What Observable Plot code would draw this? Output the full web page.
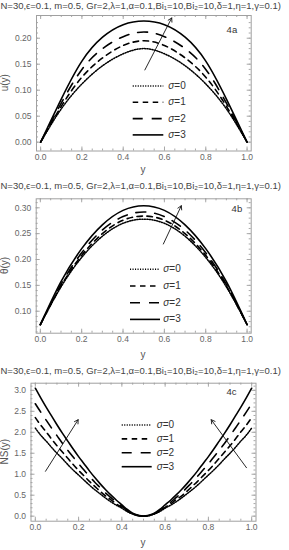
<!DOCTYPE html>
<html><head><meta charset="utf-8">
<script src="https://cdn.jsdelivr.net/npm/d3@7"></script>
<script src="https://cdn.jsdelivr.net/npm/@observablehq/plot@0.6"></script>
<style>
body{margin:0;background:#fff;width:289px;height:550px;overflow:hidden;font-family:"Liberation Sans",Arial,sans-serif}
#c svg{display:block}
</style></head><body><div id="c"></div>
<script>
const FONT = "Liberation Sans, Arial, sans-serif";
const titleText = "N=30,ϵ=0.1, m=0.5, Gr=2,λ=1,α=0.1,Bi₁=10,Bi₂=10,δ=1,η=1,γ=0.1)";
const sigmaSym = "σ";
const sigmaValues = ["0", "1", "2", "3"];

// abscissa grids
const yCoarse = [0, 0.1, 0.2, 0.3, 0.4, 0.5, 0.6, 0.7, 0.8, 0.9, 1.0];
const yFine = [0, 0.025, 0.05, 0.075, 0.1, 0.125, 0.15, 0.175, 0.2, 0.225, 0.25, 0.275, 0.3, 0.325, 0.35, 0.375, 0.4, 0.425, 0.45, 0.475, 0.5,
  0.525, 0.55, 0.575, 0.6, 0.625, 0.65, 0.675, 0.7, 0.725, 0.75, 0.775, 0.8, 0.825, 0.85, 0.875, 0.9, 0.925, 0.95, 0.975, 1.0];

// Fig 4a: u(y)
const u_s0 = [0, 0.064, 0.112, 0.147, 0.170, 0.180, 0.170, 0.147, 0.112, 0.064, 0];
const u_s1 = [0, 0.069, 0.125, 0.162, 0.186, 0.195, 0.186, 0.162, 0.125, 0.069, 0];
const u_s2 = [0, 0.075, 0.140, 0.180, 0.203, 0.212, 0.203, 0.180, 0.140, 0.075, 0];
const u_s3 = [0, 0.083, 0.156, 0.202, 0.226, 0.233, 0.226, 0.202, 0.156, 0.083, 0];

// Fig 4b: theta(y)
const th_s0 = [0.074, 0.147, 0.204, 0.245, 0.270, 0.278, 0.270, 0.245, 0.204, 0.147, 0.074];
const th_s1 = [0.074, 0.149, 0.208, 0.250, 0.276, 0.284, 0.276, 0.250, 0.208, 0.149, 0.074];
const th_s2 = [0.074, 0.152, 0.213, 0.257, 0.283, 0.292, 0.283, 0.257, 0.213, 0.152, 0.074];
const th_s3 = [0.074, 0.157, 0.221, 0.267, 0.295, 0.304, 0.295, 0.267, 0.221, 0.157, 0.074];

// Fig 4c: NS(y), left half y = 0 … 0.5 (step 0.025); right half mirrors it
const ns_s0 = [2.10, 1.93, 1.79, 1.64, 1.50, 1.37, 1.23, 1.10, 0.98, 0.86, 0.74, 0.63, 0.53, 0.43, 0.34, 0.26, 0.19, 0.11, 0.05, 0.012, 0];
const ns_s1 = [2.35, 2.17, 2.01, 1.84, 1.68, 1.53, 1.38, 1.23, 1.09, 0.96, 0.83, 0.71, 0.59, 0.48, 0.39, 0.29, 0.21, 0.12, 0.055, 0.015, 0];
const ns_s2 = [2.68, 2.48, 2.29, 2.10, 1.92, 1.74, 1.57, 1.41, 1.25, 1.10, 0.95, 0.81, 0.68, 0.55, 0.44, 0.33, 0.24, 0.14, 0.06, 0.015, 0];
const ns_s3 = [3.05, 2.82, 2.60, 2.39, 2.18, 1.98, 1.79, 1.60, 1.42, 1.25, 1.08, 0.92, 0.77, 0.63, 0.50, 0.38, 0.27, 0.16, 0.07, 0.02, 0];
function mirror(a) { return a.concat(a.slice(0, a.length - 1).reverse()); }

// tick labels
const xTicks = [0, 0.2, 0.4, 0.6, 0.8, 1.0];
const uTicks = [0, 0.05, 0.10, 0.15, 0.20];
const thTicks = [0.10, 0.15, 0.20, 0.25, 0.30];
const nsTicks = [0, 0.5, 1.0, 1.5, 2.0, 2.5, 3.0];

// arrows [x1, y1, x2, y2] in data units
const uArrow = [[0.505, 0.139, 0.635, 0.239]];
const thArrow = [[0.595, 0.230, 0.682, 0.304]];
const nsArrows = [[0.047, 1.07, 0.198, 2.30], [0.976, 1.155, 0.813, 2.30]];

const dashes = ["1.1,1.4", "5.5,4.5", "10,9", null];
const widths = [1.5, 1.6, 1.6, 1.6];

function panel(cfg) {
  const {xGrid, series, height, mt, mb, ml, mr, yDomain, yTicks, yMinor, yFormat, yLabel,
         tag, tagDx, tagDy, arrows, legend, titleY, xLabelY} = cfg;
  const innerW = 289 - ml - mr, innerH = height - mt - mb;
  const xMinor = d3.range(0, 1.0001, 0.05);
  const tickC = "#a8a8a8";
  const marks = [
    Plot.ruleX(xMinor, {insetTop: innerH - 2, stroke: tickC}),
    Plot.ruleX(xMinor, {insetBottom: innerH - 2, stroke: tickC}),
    Plot.ruleX(xTicks, {insetTop: innerH - 4, stroke: tickC}),
    Plot.ruleX(xTicks, {insetBottom: innerH - 4, stroke: tickC}),
    Plot.ruleY(yMinor, {insetRight: innerW - 2, stroke: tickC}),
    Plot.ruleY(yMinor, {insetLeft: innerW - 2, stroke: tickC}),
    Plot.ruleY(yTicks, {insetRight: innerW - 4, stroke: tickC}),
    Plot.ruleY(yTicks, {insetLeft: innerW - 4, stroke: tickC}),
    Plot.frame({stroke: "#a0a0a0"})
  ];
  series.forEach((vals, i) => {
    const rows = vals.map((v, j) => ({x: xGrid[j], v}));
    marks.push(Plot.line(rows, {x: "x", y: "v", curve: "natural", stroke: "#000",
      strokeWidth: widths[i], strokeDasharray: dashes[i]}));
  });
  marks.push(
    Plot.arrow(arrows, {x1: d => d[0], y1: d => d[1], x2: d => d[2], y2: d => d[3],
      stroke: "#111", strokeWidth: 0.9, headLength: 7}),
    Plot.axisX(xTicks, {tickSize: 0, tickPadding: 3, tickFormat: d3.format(".1f"), fontSize: 8.5,
      color: "#666", label: null}),
    Plot.axisY(yTicks, {tickSize: 0, tickPadding: 5, tickFormat: d3.format(yFormat), fontSize: 8.5,
      color: "#666", label: null}),
    Plot.text([tag], {frameAnchor: "top-right", dx: tagDx, dy: tagDy, text: d => d,
      fontSize: 9.5, fill: "#333", lineAnchor: "middle", textAnchor: "end"})
  );
  const svg = Plot.plot({
    width: 289, height, marginTop: mt, marginBottom: mb, marginLeft: ml, marginRight: mr,
    x: {domain: [-0.02, 1.02]}, y: {domain: yDomain},
    style: {fontFamily: FONT, background: "transparent", fontSize: "9px"},
    marks
  });
  const s = d3.select(svg);
  s.append("text").attr("x", 0.5).attr("y", titleY).attr("dominant-baseline", "middle")
    .attr("text-anchor", "start")
    .attr("font-family", FONT).attr("font-size", 9.5).attr("fill", "#444").text(titleText);
  // axis titles
  s.append("text").attr("x", 143).attr("y", xLabelY).attr("dominant-baseline", "middle")
    .attr("text-anchor", "middle").attr("font-family", FONT).attr("font-size", 10).attr("fill", "#555").text("y");
  s.append("text").attr("transform", `translate(5.5,${mt + innerH / 2}) rotate(-90)`)
    .attr("dominant-baseline", "middle").attr("text-anchor", "middle")
    .attr("font-family", FONT).attr("font-size", 10).attr("fill", "#555").text(yLabel);
  const lg = s.append("g");
  sigmaValues.forEach((sv, i) => {
    const y = legend.y0 + i * legend.dy;
    const l = lg.append("line").attr("x1", legend.x1).attr("x2", legend.x2).attr("y1", y).attr("y2", y)
      .attr("stroke", "#000").attr("stroke-width", widths[i]);
    if (dashes[i]) l.attr("stroke-dasharray", dashes[i]);
    const t = lg.append("text").attr("x", legend.tx).attr("y", y).attr("dominant-baseline", "middle")
      .attr("text-anchor", "start")
      .attr("font-family", FONT).attr("font-size", 10).attr("fill", "#333");
    t.append("tspan").attr("font-style", "italic").text(sigmaSym);
    t.append("tspan").text("=" + sv);
  });
  return svg;
}

const c = document.getElementById("c");
c.appendChild(panel({
  xGrid: yCoarse, series: [u_s0, u_s1, u_s2, u_s3], height: 180, mt: 15, mb: 29.5, ml: 36, mr: 38.3,
  yDomain: [-0.017, 0.2437], yTicks: uTicks, yMinor: d3.range(0, 0.2301, 0.01), yFormat: ".2f", yLabel: "u(y)",
  tag: "4a", tagDx: -14, tagDy: 14, arrows: uArrow, titleY: 6,
  legend: {x1: 132.7, x2: 163.3, tx: 168.3, y0: 86, dy: 16.3}, xLabelY: 170
}));
c.appendChild(panel({
  xGrid: yCoarse, series: [th_s0, th_s1, th_s2, th_s3], height: 185, mt: 18.3, mb: 32.3, ml: 35.7, mr: 38.3,
  yDomain: [0.0575, 0.3174], yTicks: thTicks, yMinor: d3.range(0.06, 0.3101, 0.01), yFormat: ".2f", yLabel: "θ(y)",
  tag: "4b", tagDx: -9, tagDy: 10, arrows: thArrow, titleY: 6.7,
  legend: {x1: 130, x2: 160, tx: 163.3, y0: 89.3, dy: 16.7}, xLabelY: 175
}));
c.appendChild(panel({
  xGrid: yFine, series: [mirror(ns_s0), mirror(ns_s1), mirror(ns_s2), mirror(ns_s3)], height: 185, mt: 17.7, mb: 29.3, ml: 30.5, mr: 33.5,
  yDomain: [-0.12, 3.17], yTicks: nsTicks, yMinor: d3.range(0, 3.101, 0.1), yFormat: ".1f", yLabel: "NS(y)",
  tag: "4c", tagDx: -19.5, tagDy: 8.3, arrows: nsArrows, titleY: 6,
  legend: {x1: 121.7, x2: 151.7, tx: 156.7, y0: 60, dy: 13.9}, xLabelY: 178.5
}));
</script></body></html>
